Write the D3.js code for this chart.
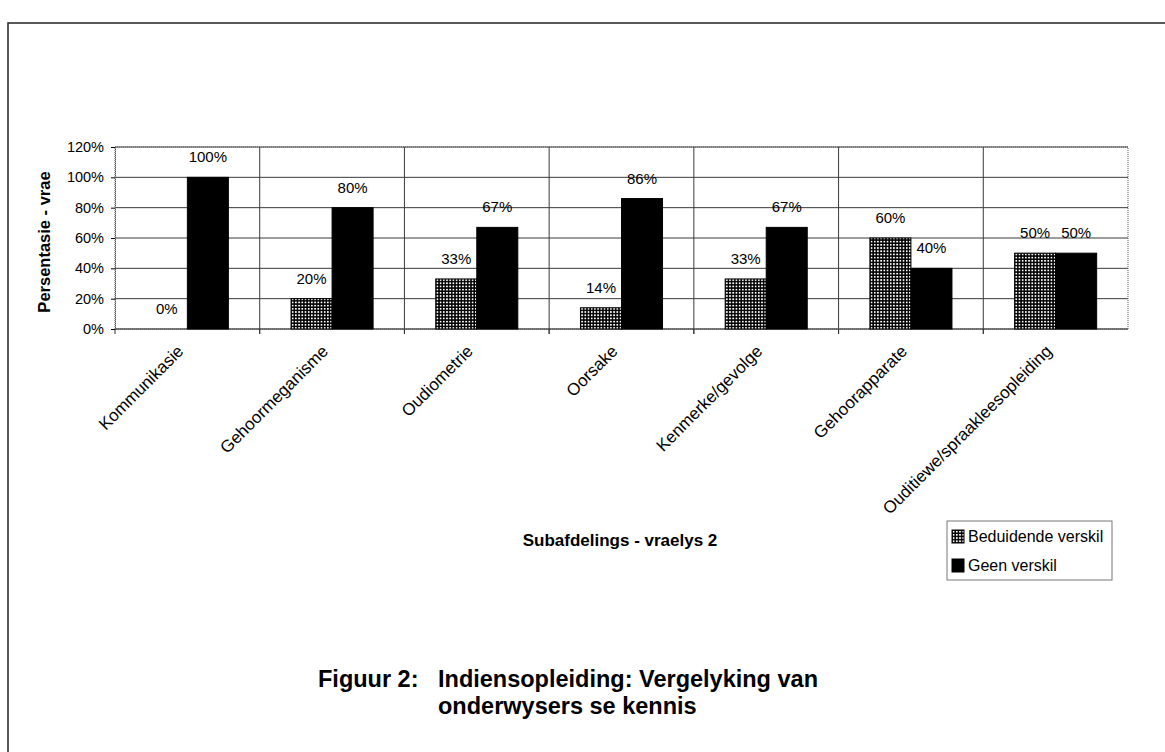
<!DOCTYPE html>
<html>
<head>
<meta charset="utf-8">
<script src="https://cdn.jsdelivr.net/npm/d3@7"></script>
<style>
  body { margin: 0; background: #fff; }
  text { font-family: Arial, "Liberation Sans", Helvetica, sans-serif; }
</style>
</head>
<body>
<div id="chart"></div>
<script>
// data
const categories = ["Kommunikasie", "Gehoormeganisme", "Oudiometrie", "Oorsake", "Kenmerke/gevolge", "Gehoorapparate", "Ouditiewe/spraakleesopleiding"];
const seriesNames = ["Beduidende verskil", "Geen verskil"];
const beduidend = [0, 20, 33, 14, 33, 60, 50];
const geen = [100, 80, 67, 86, 67, 40, 50];
const yTicks = [0, 20, 40, 60, 80, 100, 120];

const width = 1165;
const height = 752;

const margin = {
    top: 147,
    right: 37,
    bottom: 423,
    left: 115
}

const svg = d3.select("#chart")
    .append("svg")
    .attr("width", width)
    .attr("height", height)

// checkered fill
const defs = svg.append("defs");
const pat = defs.append("pattern")
    .attr("id", "checks")
    .attr("patternUnits", "userSpaceOnUse")
    .attr("width", 3.2)
    .attr("height", 3.2)
pat.append("rect").attr("width", 3.2).attr("height", 3.2).attr("fill", "#000")
pat.append("rect").attr("x", 0.8).attr("y", 0.8).attr("width", 1.7).attr("height", 1.7).attr("fill", "#fff")

// page frame (scan border)
svg.append("path")
    .attr("d", `M8,${height} V23 H${width}`)
    .attr("fill", "none")
    .attr("stroke", "#222")
    .attr("stroke-width", 1.5)

const x0 = d3.scaleBand()
    .domain(categories)
    .range([margin.left, width - margin.right])
    .paddingInner(0.433)
    .paddingOuter(0.2165)

const x1 = d3.scaleBand()
    .domain(seriesNames)
    .range([0, x0.bandwidth()])

const y = d3.scaleLinear()
    .domain([0, 120])
    .range([height - margin.bottom, margin.top])

const gap = x0.step() * x0.paddingInner() / 2;

// gridlines
svg.append("g")
    .selectAll("line")
    .data(yTicks)
    .join("line")
        .attr("x1", margin.left)
        .attr("x2", width - margin.right)
        .attr("y1", d => y(d))
        .attr("y2", d => y(d))
        .attr("stroke", d => d === 0 ? "#000" : "#3a3a3a")
        .attr("stroke-width", 1)

svg.append("g")
    .selectAll("line")
    .data(categories.slice(1))
    .join("line")
        .attr("x1", d => x0(d) - gap)
        .attr("x2", d => x0(d) - gap)
        .attr("y1", y(120))
        .attr("y2", y(0) + 5)
        .attr("stroke", "#3a3a3a")

// plot frame
svg.append("rect")
    .attr("x", margin.left)
    .attr("y", y(120))
    .attr("width", width - margin.right - margin.left)
    .attr("height", y(0) - y(120))
    .attr("fill", "none")
    .attr("stroke", "#555")
    .attr("stroke-dasharray", "1,1")

// bars
const rows = categories.map((c, i) => ({ cat: c, values: [beduidend[i], geen[i]] }));

const groups = svg.append("g")
    .selectAll("g")
    .data(rows)
    .join("g")
        .attr("transform", d => `translate(${x0(d.cat)},0)`)

groups.selectAll("rect")
    .data(d => d.values.map((v, j) => ({ key: seriesNames[j], v: v })))
    .join("rect")
        .attr("x", d => x1(d.key))
        .attr("y", d => y(d.v))
        .attr("width", x1.bandwidth())
        .attr("height", d => y(0) - y(d.v))
        .attr("fill", d => d.key === seriesNames[0] ? "url(#checks)" : "#000")
        .attr("stroke", "#000")
        .attr("stroke-width", 1)

groups.selectAll("text")
    .data(d => d.values.map((v, j) => ({ key: seriesNames[j], v: v })))
    .join("text")
        .attr("x", d => x1(d.key) + x1.bandwidth() / 2)
        .attr("y", d => y(d.v) - 15)
        .attr("text-anchor", "middle")
        .attr("font-size", 15)
        .text(d => d.v + "%")

// y axis
const yAxis = svg.append("g")
    .attr("transform", `translate(${margin.left}, 0)`)
    .call(d3.axisLeft(y).tickValues(yTicks).tickSize(4).tickFormat(d => d + "%"))
yAxis.select(".domain").attr("stroke", "#555").attr("stroke-dasharray", "1,1")
yAxis.selectAll("text").attr("font-size", 14.5).attr("fill", "#000").attr("x", -11)

// x axis ticks at category edges
svg.append("g")
    .selectAll("line")
    .data(categories)
    .join("line")
        .attr("x1", d => x0(d) - gap)
        .attr("x2", d => x0(d) - gap)
        .attr("y1", y(0))
        .attr("y2", y(0) + 5)
        .attr("stroke", "#333")

// x labels
svg.append("g")
    .selectAll("text")
    .data(categories)
    .join("text")
        .attr("transform", d => `translate(${x0(d) + x0.bandwidth() / 2 - 7}, ${y(0) + 19}) rotate(-45)`)
        .attr("text-anchor", "end")
        .attr("dy", "0.35em")
        .attr("font-size", 17)
        .text(d => d)

// axis titles
svg.append("text")
    .attr("transform", `translate(50, ${(y(0) + y(120)) / 2 + 4}) rotate(-90)`)
    .attr("text-anchor", "middle")
    .attr("font-size", 16.5)
    .attr("font-weight", "bold")
    .text("Persentasie - vrae")

svg.append("text")
    .attr("x", 620)
    .attr("y", 546)
    .attr("text-anchor", "middle")
    .attr("font-size", 17)
    .attr("font-weight", "bold")
    .text("Subafdelings - vraelys 2")

// legend
const legend = svg.append("g").attr("transform", "translate(947, 521)")
legend.append("rect")
    .attr("width", 165)
    .attr("height", 59)
    .attr("fill", "#fff")
    .attr("stroke", "#777")

legend.selectAll("g")
    .data(seriesNames)
    .join("g")
        .attr("transform", (d, i) => `translate(5, ${9 + i * 29})`)
        .call(g => g.append("rect")
            .attr("width", 12)
            .attr("height", 13)
            .attr("fill", (d, i) => i === 0 ? "url(#checks)" : "#000")
            .attr("stroke", "#000"))
        .call(g => g.append("text")
            .attr("x", 16)
            .attr("y", 11.5)
            .attr("font-size", 16)
            .text(d => d))

// figure caption
const cap = svg.append("g").attr("font-size", 23.5).attr("font-weight", "bold")
cap.append("text").attr("x", 318).attr("y", 687).text("Figuur 2:")
cap.append("text").attr("x", 438).attr("y", 687).text("Indiensopleiding: Vergelyking van")
cap.append("text").attr("x", 438).attr("y", 714).text("onderwysers se kennis")
</script>
</body>
</html>
